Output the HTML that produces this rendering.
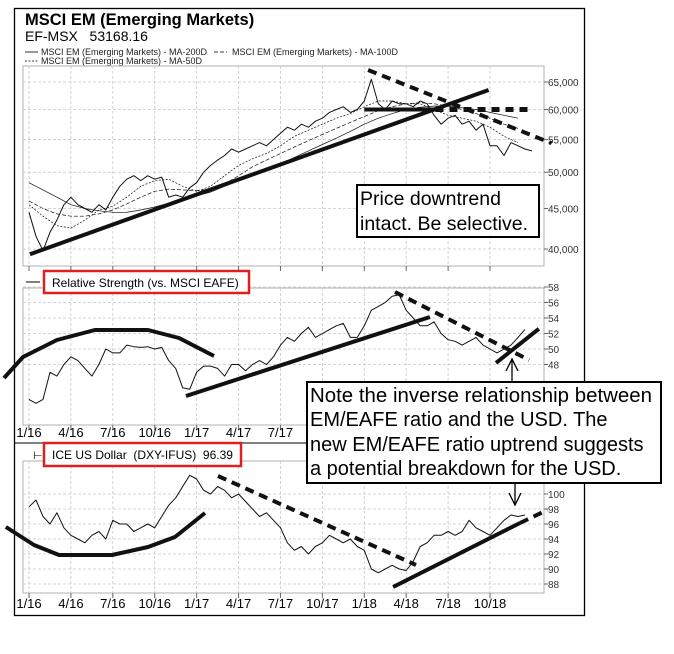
<!DOCTYPE html>
<html><head><meta charset="utf-8"><style>
html,body{margin:0;padding:0;background:#fff}
svg{display:block;font-family:"Liberation Sans",Arial,sans-serif}
</style></head><body>
<svg id="chart" width="674" height="654" viewBox="0 0 674 654" xmlns="http://www.w3.org/2000/svg">
<rect x="14.5" y="8.5" width="570" height="607" fill="#fff" stroke="#000" stroke-width="1.3"/>
<text x="25" y="25" font-size="16.5" font-weight="bold">MSCI EM (Emerging Markets)</text>
<text x="25" y="41" font-size="14">EF-MSX&#160;&#160;&#160;53168.16</text>
<g font-size="9" fill="#222">
<line x1="25" y1="52" x2="38" y2="52" stroke="#000" stroke-width="0.8"/>
<text x="41" y="55">MSCI EM (Emerging Markets) - MA-200D</text>
<line x1="214" y1="52" x2="227" y2="52" stroke="#000" stroke-width="0.8" stroke-dasharray="4,2"/>
<text x="232" y="55">MSCI EM (Emerging Markets) - MA-100D</text>
<line x1="25" y1="61" x2="38" y2="61" stroke="#000" stroke-width="0.8" stroke-dasharray="2,1.5"/>
<text x="41" y="64">MSCI EM (Emerging Markets) - MA-50D</text>
</g>
<line x1="14" y1="443" x2="544" y2="443" stroke="#000" stroke-width="1"/>
<g id="g1"></g><g id="g2"></g><g id="g3"></g>
<line x1="26" y1="282" x2="40" y2="282" stroke="#000" stroke-width="1"/>
<rect x="44" y="271" width="205" height="22" fill="#fff" stroke="#e02020" stroke-width="2.5"/>
<text x="52" y="287" font-size="12">Relative Strength (vs. MSCI EAFE)</text>
<text x="33" y="459" font-size="11">⊢</text>
<rect x="44" y="443" width="197" height="23" fill="#fff" stroke="#e02020" stroke-width="2.5"/>
<text x="52" y="459" font-size="12">ICE US Dollar&#160; (DXY-IFUS)&#160; 96.39</text>
<g>
<rect x="357" y="185" width="182" height="52" fill="#fff" stroke="#000" stroke-width="2"/>
<text x="360" y="205" font-size="19.5">Price downtrend</text>
<text x="360" y="230" font-size="19.5">intact. Be selective.</text>
</g>
<g stroke="#000" stroke-width="1.3" fill="none">
<line x1="512" y1="359" x2="512" y2="382"/><polyline points="506,371 512,359 518,371"/>
</g>
<g stroke="#000" stroke-width="1.3" fill="none">
<line x1="515" y1="483" x2="515" y2="505"/><polyline points="509,493 515,505 521,493"/>
</g>
<g>
<rect x="307" y="382" width="354" height="101" fill="#fff" stroke="#000" stroke-width="2"/>
<text x="310" y="402" font-size="20" textLength="342" lengthAdjust="spacingAndGlyphs">Note the inverse relationship between</text>
<text x="310" y="426" font-size="20">EM/EAFE ratio and the USD. The</text>
<text x="310" y="451" font-size="20">new EM/EAFE ratio uptrend suggests</text>
<text x="310" y="475" font-size="20">a potential breakdown for the USD.</text>
</g>
</svg>
<script>
// ---- data (semi-monthly, starting Jan 2016) ----
const xTickLabels = ["1/16","4/16","7/16","10/16","1/17","4/17","7/17","10/17","1/18","4/18","7/18","10/18"];
const emPrice = [44.5,41.5,39.8,42,43.5,45.5,46.5,45.5,45,44.5,45.5,44.8,46.5,48,49,49.5,48.8,49.5,49,49.3,46.5,46.8,46.5,47.8,48.5,50,51,51.8,52.5,53.5,53,53.5,54,54.5,54,55,56,57,56.5,57.5,57,58,58.5,59.5,60,60.5,59.5,60,61.5,65.5,61,60,61.5,61,61,60.5,61.5,61,59,57.5,58.5,59,57.5,58,56.5,57.5,54,54,52.5,54.5,54,53.5,53.2];
const emMa200 = [48.5,47.5,46.5,45.5,45,44.7,44.5,44.5,44.8,45.2,45.7,46.2,46.7,47.2,48,48.8,49.5,50.3,51.2,52.2,53.2,54.2,55.2,56.3,57.5,58.5,59.3,60,60.4,60.6,60.6,60.3,60,59.5,59,58.5];
const emMa100 = [46,45,44.3,44,44,44.3,44.8,45.6,46.5,47.3,47.6,47.5,47.4,47.6,48.3,49.5,50.8,51.8,52.8,53.8,54.8,55.8,56.8,57.8,58.8,59.8,60.5,61,61.2,61,60.6,60,59.3,58.5,57.5,56.8];
const emMa50 = [45.5,44,42.8,42.5,43.5,44.8,45.3,46.5,48,48.8,49,48,47.3,48,49.5,51,52,52.8,54,55.5,56.5,57.5,58.5,59.3,60.5,61.5,61.5,61,61,60,59,58.5,58,57,55.5,54.5];
const emTicks = [40,45,50,55,60,65];
const rsValues = [43.5,43,43.5,47,46.5,48,49,48.5,47.5,46.5,48,50,49.5,49.5,50.5,50.3,50.2,50.3,50,50.2,48.5,47.5,45,44.8,47,47.8,47.8,47.5,46.5,48,48,47.2,48,48.5,48,49,50.5,51.5,51,52,52.8,51.5,52,52.5,53,53.3,51.5,51.5,53,55,55.5,56,56.8,57,55,54,53,53,53.5,52,51.2,51,50.5,51,51.5,50.5,50,49.5,50,50.5,51.5,52.5];
const rsTicks = [48,50,52,54,56,58];
const usdValues = [98.3,99.2,97,96,97.5,95.5,94.5,94,93.5,94.5,95,94,96.5,96,96,95,95.5,96,95.5,97,98.5,99.5,101,102.5,102,100.5,100,101,100.5,99.5,100,99,98,97,97.5,96.5,95.5,93.5,92.5,93,92,93,93.5,94.5,94,93.5,94,93,92.5,90,89.5,90,90.5,90,89.8,91,93,93.5,94.5,94.5,95,94.5,95,96.5,95.5,95,94.5,95.5,96.5,97.2,97,97.2];
const usdTicks = [88,90,92,94,96,98,100];
// annotation anchors in (month, value)
const emUpTrend = [[0.07,39.4],[32.9,63.5]];
const emSupport = [[24.0,60],[29.1,60]];
const emResistDash = [[29.1,60],[36.0,60]];
const emDownTrend = [[24.27,67.3],[37.4,54.4]];
const rsArc = [[-1.79,46.26],[-0.43,48.97],[2.0,51.16],[4.72,52.45],[8.52,52.45],[10.74,51.42],[13.24,49.1]];
const rsUpTrend = [[11.24,43.94],[28.7,54.13]];
const rsDownTrend = [[26.2,57.35],[35.8,48.58]];
const rsNewUp = [[33.43,48.2],[36.5,52.6]];
const usdArc = [[-1.65,95.6],[0.36,93.2],[2.15,91.87],[5.94,91.87],[8.52,92.93],[10.45,94.27],[12.6,97.47]];
const usdDownTrend = [[13.53,102.4],[27.7,90.53]];
const usdUpTrend = [[26.06,87.6],[35.15,96.13]];
const usdUpExt = [[35.15,96.13],[37.1,97.87]];

// ---- axes ----
const NS="http://www.w3.org/2000/svg";
const xOf = t => 29 + t*13.97;
const yEm = v => 249 - 344*Math.log(v/40);
const yRs = v => 287 + (58-v)*7.75;
const yUsd = v => 494 + (100-v)*7.5;
function mk(parent,tag,attrs){const e=document.createElementNS(NS,tag);for(const k in attrs)e.setAttribute(k,attrs[k]);parent.appendChild(e);return e;}
function panel(g,top,bottom,ticks,yf,fmt,xlabY,name){
  const frame=mk(g,'rect',{x:23,y:top,width:521,height:bottom-top,fill:'none',stroke:'#aaa','stroke-width':0.9});
  
  
  xTickLabels.forEach((lab,i)=>{
    const x=xOf(i*3);
    const gl=mk(g,'line',{x1:x,y1:top,x2:x,y2:bottom,stroke:'#c8c8c8','stroke-dasharray':'3,2','stroke-width':0.8});
    
    
    mk(g,'line',{x1:x,y1:bottom,x2:x,y2:bottom+5,stroke:'#666','stroke-width':1});
    if(xlabY){
      const t=mk(g,'text',{x:x,y:xlabY,'font-size':13,'text-anchor':'middle'});
      t.textContent=lab;
      
      
    }
  });
  ticks.forEach(v=>{
    const y=yf(v);
    const gl=mk(g,'line',{x1:23,y1:y,x2:544,y2:y,stroke:'#c8c8c8','stroke-dasharray':'3,2','stroke-width':0.8});
    
    
    mk(g,'line',{x1:544,y1:y,x2:548,y2:y,stroke:'#666','stroke-width':1});
    const t=mk(g,'text',{x:548,y:y+4,'font-size':10,fill:'#333'});
    t.textContent=fmt(v);
    
    
  });
}
function series(g,vals,step,yf,style,name){
  const d=vals.map((v,i)=>(i?'L':'M')+xOf(i*step).toFixed(1)+','+yf(v).toFixed(1)).join(' ');
  const p=mk(g,'path',Object.assign({d:d,fill:'none',stroke:'#111','stroke-linejoin':'round'},style));
  
  
}
function anno(g,pts,yf,style,name){
  const d=pts.map((p,i)=>(i?'L':'M')+xOf(p[0]).toFixed(1)+','+yf(p[1]).toFixed(1)).join(' ');
  const p=mk(g,'path',Object.assign({d:d,fill:'none',stroke:'#111'},style));
  
  
}
const g1=document.getElementById('g1'),g2=document.getElementById('g2'),g3=document.getElementById('g3');
panel(g1,66,266,emTicks,yEm,v=>(v*1000).toLocaleString('en-US'),null,'em');
panel(g2,288,425,rsTicks,yRs,v=>String(v),437,'rs');
panel(g3,461,593,usdTicks,yUsd,v=>String(v),608,'usd');
series(g1,emMa200,1,yEm,{'stroke-width':0.7},'em-ma-200d-line');
series(g1,emMa100,1,yEm,{'stroke-width':0.7,'stroke-dasharray':'4,2'},'em-ma-100d-line');
series(g1,emMa50,1,yEm,{'stroke-width':0.7,'stroke-dasharray':'2,1.5'},'em-ma-50d-line');
series(g1,emPrice,0.5,yEm,{'stroke-width':1},'em-price-line');
series(g2,rsValues,0.5,yRs,{'stroke-width':1},'rs-line');
series(g3,usdValues,0.5,yUsd,{'stroke-width':1},'usd-line');
anno(g1,emUpTrend,yEm,{'stroke-width':4},'em-uptrend-line');
anno(g1,emSupport,yEm,{'stroke-width':4},'em-support-line');
anno(g1,emResistDash,yEm,{'stroke-width':5,'stroke-dasharray':'8,6'},'em-60000-dashed-line');
anno(g1,emDownTrend,yEm,{'stroke-width':4,'stroke-dasharray':'9,6'},'em-downtrend-line');
anno(g2,rsArc,yRs,{'stroke-width':4,'stroke-linejoin':'round'},'rs-top-arc');
anno(g2,rsUpTrend,yRs,{'stroke-width':4},'rs-uptrend-line');
anno(g2,rsDownTrend,yRs,{'stroke-width':4,'stroke-dasharray':'9,6'},'rs-downtrend-line');
anno(g2,rsNewUp,yRs,{'stroke-width':4},'rs-new-uptrend-line');
anno(g3,usdArc,yUsd,{'stroke-width':4,'stroke-linejoin':'round'},'usd-bottom-arc');
anno(g3,usdDownTrend,yUsd,{'stroke-width':4,'stroke-dasharray':'9,6'},'usd-downtrend-line');
anno(g3,usdUpTrend,yUsd,{'stroke-width':4},'usd-uptrend-line');
anno(g3,usdUpExt,yUsd,{'stroke-width':4,'stroke-dasharray':'9,6'},'usd-uptrend-extension');
</script>
</body></html>
